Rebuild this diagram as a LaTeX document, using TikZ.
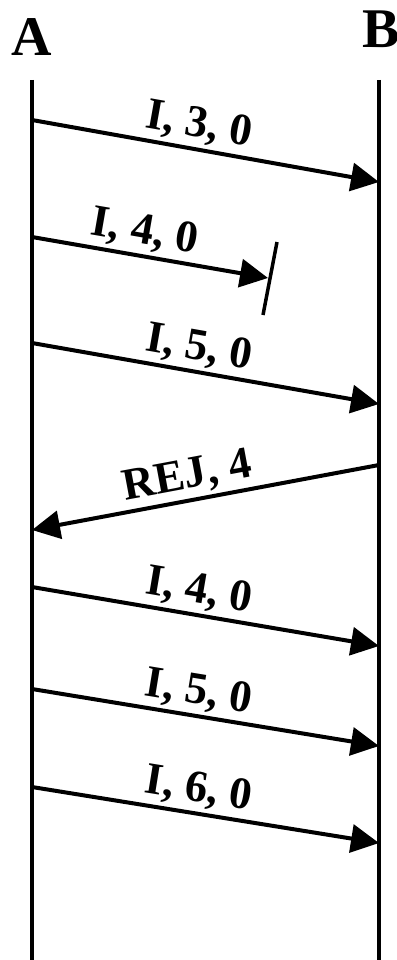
\documentclass[tikz,border=0pt]{standalone}
\usepackage{fontspec}
\setmainfont{Liberation Serif}
\usetikzlibrary{arrows.meta}
\begin{document}
\begin{tikzpicture}[x=1pt,y=-1pt,
  life/.style={line width=4pt},
  msg/.style={line width=4pt,-{Triangle[length=28pt,width=28pt]}},
  rmsg/.style={line width=4pt,{Triangle[length=28pt,width=28pt]}-},
  lbl/.style={font=\fontsize{45}{45}\selectfont\bfseries,sloped,above=3pt,inner sep=0pt},
  ent/.style={font=\fontsize{56}{56}\selectfont\bfseries,inner sep=0pt}]
\useasboundingbox (0,0) rectangle (396,960);
\node[ent] (A) at (32,37) {A};
\node[ent] (B) at (381,29) {B};
\coordinate (At) at (32,80);
\coordinate (Ab) at (32,960);
\coordinate (Bt) at (379,80);
\coordinate (Bb) at (379,960);
\draw[life] (At) -- (Ab);
\draw[life] (Bt) -- (Bb);
% messages
\coordinate (a1) at (32,120); \coordinate (b1) at (379,182);
\coordinate (a2) at (32,237); \coordinate (x2) at (268,278);
\coordinate (a3) at (32,343); \coordinate (b3) at (379,404);
\coordinate (a4) at (32,530); \coordinate (b4) at (379,465);
\coordinate (a5) at (32,587); \coordinate (b5) at (379,646);
\coordinate (a6) at (32,689); \coordinate (b6) at (379,746);
\coordinate (a7) at (32,787); \coordinate (b7) at (379,843);
\draw[msg] (a1) -- node[lbl,pos=0.47] (l1) {I, 3, 0} (b1);
\draw[msg] (a2) -- node[lbl,pos=0.46] (l2) {I, 4, 0} (x2);
\coordinate (s1) at (277,242); \coordinate (s2) at (263,315);
\draw[line width=3.5pt] (s1) -- (s2);
\draw[msg] (a3) -- node[lbl,pos=0.47] (l3) {I, 5, 0} (b3);
\draw[rmsg] (a4) -- node[lbl,pos=0.46] (l4) {REJ, 4} (b4);
\draw[msg] (a5) -- node[lbl,pos=0.47] (l5) {I, 4, 0} (b5);
\draw[msg] (a6) -- node[lbl,pos=0.47] (l6) {I, 5, 0} (b6);
\draw[msg] (a7) -- node[lbl,pos=0.47] (l7) {I, 6, 0} (b7);
\end{tikzpicture}
\end{document}
